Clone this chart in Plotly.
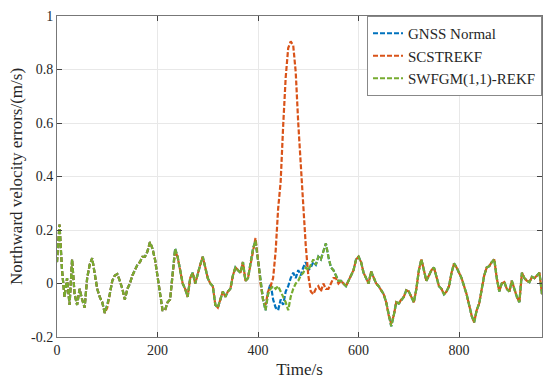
import plotly.graph_objects as go

# ---------------- data ----------------
time_s = list(range(0, 970, 5))

swfgm = [
    0.08, 0.22, 0.05, -0.05, 0.02, -0.08, 0.09, -0.04, -0.08, -0.02,      # 0-45
    -0.06, -0.09, 0.02, 0.07, 0.095, 0.03, -0.02, -0.05, -0.07, -0.11,    # 50-95
    -0.08, -0.04, 0.01, 0.03, 0.035, 0.01, -0.02, -0.06, -0.02, 0.0,      # 100-145
    0.03, 0.05, 0.07, 0.08, 0.10, 0.10, 0.12, 0.155, 0.13, 0.09,          # 150-195
    0.03, -0.03, -0.10, -0.10, -0.07, -0.06, 0.03, 0.13, 0.10, 0.05,      # 200-245
    0.0, -0.02, -0.05, 0.02, 0.04, 0.0, 0.04, 0.07, 0.10, 0.06,           # 250-295
    0.02, 0.0, -0.01, -0.08, -0.09, -0.06, -0.03, -0.05, -0.03, -0.02,    # 300-345
    0.03, 0.06, 0.05, 0.04, 0.08, 0.01, 0.02, 0.07, 0.13, 0.16,           # 350-395
    0.09, 0.0, -0.06, -0.10, -0.04, -0.02, -0.01, -0.02, -0.01, -0.03,    # 400-445
    -0.05, -0.07, -0.10, -0.05, -0.02, 0.0, 0.01, 0.03, 0.04, 0.06,       # 450-495
    0.05, 0.07, 0.09, 0.07, 0.10, 0.09, 0.12, 0.15, 0.10, 0.06,           # 500-545
    0.05, 0.03, 0.01, 0.01, 0.0, -0.01, 0.01, 0.03, 0.05, 0.09,           # 550-595
    0.10, 0.08, 0.04, 0.02, 0.0, 0.045, 0.02, 0.0, -0.01, -0.025,         # 600-645
    -0.04, -0.07, -0.12, -0.16, -0.12, -0.07, -0.075, -0.06, -0.05, -0.025,  # 650-695
    -0.03, -0.05, -0.07, -0.02, 0.05, 0.09, 0.05, 0.01, 0.03, 0.05,       # 700-745
    0.06, 0.02, -0.01, -0.02, -0.04, -0.03, -0.01, 0.04, 0.075, 0.06,     # 750-795
    0.04, 0.02, -0.01, -0.04, -0.08, -0.12, -0.145, -0.10, -0.075, -0.02, # 800-845
    0.03, 0.06, 0.065, 0.08, 0.09, 0.02, -0.03, 0.0, 0.005, -0.02,        # 850-895
    -0.03, 0.01, -0.02, -0.05, -0.07, 0.04, 0.02, 0.01, 0.005, 0.025,     # 900-945
    0.02, 0.03, 0.04, -0.04,                                              # 950-965
]

# GNSS Normal differs from SWFGM only in the window below
gnss_seg_t = list(range(415, 545, 5))
gnss_seg = [
    -0.10, -0.03, 0.0, -0.06, -0.09, -0.10, -0.06, -0.08, -0.03, -0.01,
    0.02, 0.04, 0.02, 0.05, 0.03, 0.06, 0.08, 0.05, 0.06, 0.08,
    0.07, 0.10, 0.09, 0.12, 0.15, 0.10,
]

# SCSTREKF differs from SWFGM in the window below (GNSS outage spike)
scst_seg_t = list(range(410, 580, 5))
scst_seg = [
    -0.06, -0.08, -0.03, -0.01, 0.02, 0.12, 0.28, 0.38, 0.59, 0.77,
    0.88, 0.905, 0.89, 0.79, 0.60, 0.44, 0.27, 0.14, 0.03, -0.03,
    -0.04, -0.02, -0.01, -0.03, 0.0, -0.02, -0.02, 0.0, 0.02, 0.02,
    0.0, 0.01, 0.0, -0.01,
]
scst_extra = {395: 0.17, 235: 0.12, 100: -0.09, 665: -0.15}

x_ticks = [0, 200, 400, 600, 800]
y_ticks = [-0.2, 0, 0.2, 0.4, 0.6, 0.8, 1]
y_tick_text = ["-0.2", "0", "0.2", "0.4", "0.6", "0.8", "1"]

# ---------------- build series ----------------
assert len(time_s) == len(swfgm)
gnss = dict(zip(time_s, swfgm))
gnss.update(dict(zip(gnss_seg_t, gnss_seg)))
scst = dict(zip(time_s, swfgm))
scst.update(scst_extra)
scst.update(dict(zip(scst_seg_t, scst_seg)))
gnss_y = [gnss[t] for t in time_s]
scst_y = [scst[t] for t in time_s]

font_family = "Liberation Serif, Times New Roman, serif"
dash = "5px,2px"

fig = go.Figure()
fig.add_trace(go.Scatter(x=time_s, y=gnss_y, mode="lines", name="GNSS Normal",
                         line=dict(color="#0072BD", width=2.2, dash=dash)))
fig.add_trace(go.Scatter(x=time_s, y=scst_y, mode="lines", name="SCSTREKF",
                         line=dict(color="#D95319", width=2.2, dash=dash)))
fig.add_trace(go.Scatter(x=time_s, y=swfgm, mode="lines", name="SWFGM(1,1)-REKF",
                         line=dict(color="#77AC30", width=2.2, dash=dash)))

fig.update_layout(
    width=550, height=387,
    margin=dict(l=57, r=8, t=16, b=50),
    paper_bgcolor="white", plot_bgcolor="white",
    font=dict(family=font_family, size=14, color="#262626"),
    showlegend=True,
    legend=dict(x=1, y=1, xanchor="right", yanchor="top",
                bordercolor="#888", borderwidth=1, bgcolor="white",
                font=dict(family=font_family, size=15, color="#262626"),
                tracegroupgap=0),
)
fig.update_xaxes(range=[0, 965], tickvals=x_ticks, ticks="inside", ticklen=5,
                 showline=True, linecolor="#777", linewidth=1, mirror="ticks",
                 showgrid=True, gridcolor="#e8e8e8", zeroline=False,
                 automargin=False,
                 title=dict(text="Time/s", standoff=6),
                 tickfont=dict(size=14))
fig.update_yaxes(range=[-0.2, 1], tickvals=y_ticks, ticktext=y_tick_text,
                 ticks="inside", ticklen=5,
                 showline=True, linecolor="#777", linewidth=1, mirror="ticks",
                 showgrid=True, gridcolor="#e8e8e8", zeroline=False,
                 automargin=False,
                 title=dict(text="Northward velocity errors/(m/s)", standoff=4),
                 tickfont=dict(size=14))

fig.write_html("out.html", config={"displayModeBar": False},
               post_script="document.body.style.margin='0';document.body.style.overflow='hidden';")
